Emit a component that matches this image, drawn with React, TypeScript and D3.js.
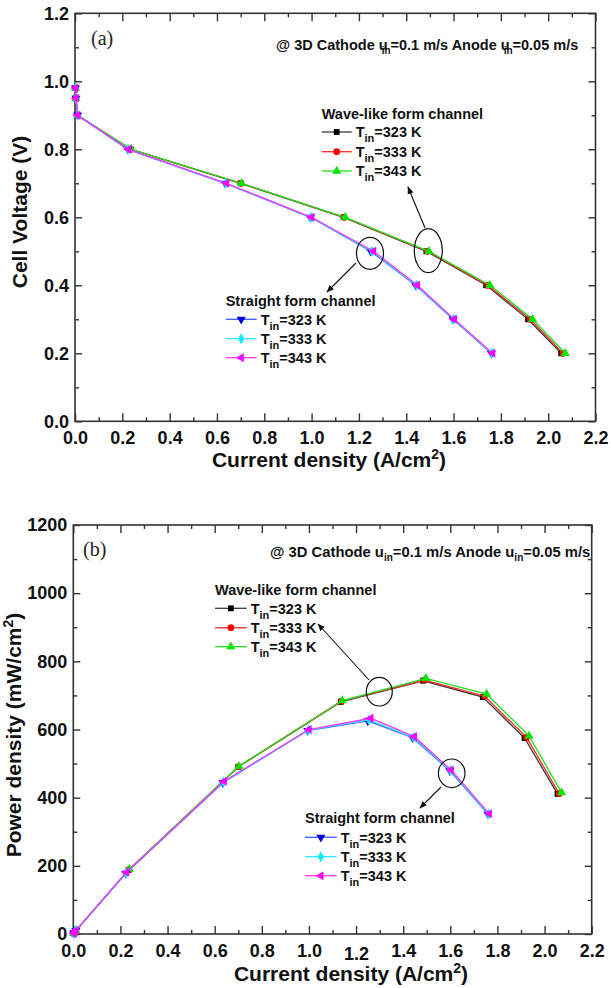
import React, { useEffect, useRef } from 'react';
import * as d3 from 'd3';

// tick labels
const currentTicks = [0, 0.2, 0.4, 0.6, 0.8, 1.0, 1.2, 1.4, 1.6, 1.8, 2.0, 2.2];
const voltageTicks = [0, 0.2, 0.4, 0.6, 0.8, 1.0, 1.2];
const powerTicks = [0, 200, 400, 600, 800, 1000, 1200];

// panel (a): cell voltage levels, with current density of each run
const cellVoltage = [0.98, 0.95, 0.9, 0.8, 0.7, 0.6, 0.5, 0.4, 0.3, 0.2];
const wave323Current = [0.002, 0.004, 0.011, 0.235, 0.700, 1.135, 1.485, 1.738, 1.915, 2.055];
const wave333Current = [0.002, 0.004, 0.011, 0.236, 0.701, 1.138, 1.490, 1.745, 1.924, 2.062];
const wave343Current = [0.002, 0.004, 0.011, 0.238, 0.703, 1.142, 1.496, 1.754, 1.934, 2.072];
const straight323Current = [0.002, 0.004, 0.011, 0.223, 0.635, 0.995, 1.250, 1.440, 1.598, 1.760];
const straight333Current = [0.002, 0.004, 0.011, 0.224, 0.637, 0.997, 1.255, 1.443, 1.600, 1.762];
const straight343Current = [0.002, 0.004, 0.011, 0.226, 0.640, 1.000, 1.262, 1.447, 1.603, 1.765];

// panel (b): power density
const wave323Power = [2, 4, 10, 188, 490, 681, 743, 695, 575, 411];
const wave333Power = [2, 4, 10, 189, 491, 683, 745, 698, 577, 412];
const wave343Power = [2, 4, 10, 190, 492, 685, 750, 704, 581, 415];
const straight323Power = [2, 4, 10, 178, 444, 597, 625, 576, 479, 352];
const straight333Power = [2, 4, 10, 179, 446, 598, 628, 577, 480, 352];
const straight343Power = [2, 4, 10, 181, 448, 600, 633, 579, 481, 353];

const tempLabels = ['323 K', '333 K', '343 K'];

const FONT = 'Liberation Sans, Arial, sans-serif';

const styles = [
  { line: '#3a3a3a', fill: '#000000', symbol: d3.symbolSquare, size: 34, rotate: 0 },
  { line: '#ff2a2a', fill: '#ff0000', symbol: d3.symbolCircle, size: 36, rotate: 0 },
  { line: '#1ee01e', fill: '#00e600', symbol: d3.symbolTriangle, size: 36, rotate: 0 },
  { line: '#3d5cff', fill: '#0000e0', symbol: d3.symbolTriangle, size: 36, rotate: 180 },
  { line: '#28e6ff', fill: '#00f0ff', symbol: d3.symbolDiamond, size: 34, rotate: 0 },
  { line: '#ff35ff', fill: '#ff00ff', symbol: d3.symbolTriangle, size: 36, rotate: -90 },
];

function marker(g, st, cx, cy) {
  g.append('path')
    .attr('d', d3.symbol().type(st.symbol).size(st.size)())
    .attr('transform', `translate(${cx},${cy}) rotate(${st.rotate})`)
    .attr('fill', st.fill);
}

// parts: [text, isSub, dx]
function subText(sel, parts, sub = 10, shift = 4) {
  let acc = 0;
  parts.forEach(([t, isSub, dx]) => {
    const want = isSub ? shift : 0;
    const ts = sel.append('tspan').text(t).attr('dy', want - acc);
    if (isSub) ts.attr('font-size', sub).attr('dx', dx || 0);
    acc = want;
  });
}

function drawPanel(svg, p) {
  const x = d3.scaleLinear().domain([0, 2.2]).range([p.left, p.right]);
  const y = d3.scaleLinear().domain([0, p.yMax]).range([p.bottom, p.top]);
  const g = svg.append('g');

  const xMinor = currentTicks.slice(0, -1).map(v => v + 0.1);
  const yMinor = p.yTicks.slice(0, -1).map((v, i) => (v + p.yTicks[i + 1]) / 2);

  const style = sel => {
    sel.select('.domain').remove();
    sel.attr('color', '#333').attr('font-family', FONT).attr('font-size', 18).attr('font-weight', 'bold');
    sel.selectAll('line').attr('stroke-width', 1.4);
    sel.selectAll('text').attr('fill', '#111');
  };

  g.append('g').attr('transform', `translate(0,${p.bottom})`)
    .call(d3.axisBottom(x).tickValues(currentTicks).tickSize(-8).tickPadding(10).tickFormat(d3.format('.1f')))
    .call(style)
    .call(s => s.selectAll('text').attr('transform', d => (p.shiftTick === d ? 'translate(0,3)' : null)));
  g.append('g').attr('transform', `translate(0,${p.bottom})`)
    .call(d3.axisBottom(x).tickValues(xMinor).tickSize(-4).tickFormat(() => '')).call(style);
  g.append('g').attr('transform', `translate(0,${p.top})`)
    .call(d3.axisTop(x).tickValues(currentTicks).tickSize(-8).tickFormat(() => '')).call(style);
  g.append('g').attr('transform', `translate(0,${p.top})`)
    .call(d3.axisTop(x).tickValues(xMinor).tickSize(-4).tickFormat(() => '')).call(style);

  g.append('g').attr('transform', `translate(${p.left},0)`)
    .call(d3.axisLeft(y).tickValues(p.yTicks).tickSize(-7).tickPadding(6).tickFormat(p.yFormat))
    .call(style);
  g.append('g').attr('transform', `translate(${p.left},0)`)
    .call(d3.axisLeft(y).tickValues(yMinor).tickSize(-4).tickFormat(() => '')).call(style);
  g.append('g').attr('transform', `translate(${p.right},0)`)
    .call(d3.axisRight(y).tickValues(p.yTicks).tickSize(-7).tickFormat(() => '')).call(style);
  g.append('g').attr('transform', `translate(${p.right},0)`)
    .call(d3.axisRight(y).tickValues(yMinor).tickSize(-4).tickFormat(() => '')).call(style);

  g.append('rect')
    .attr('x', p.left).attr('y', p.top)
    .attr('width', p.right - p.left).attr('height', p.bottom - p.top)
    .attr('fill', 'none').attr('stroke', '#333').attr('stroke-width', 1.6);

  // series
  const line = d3.line().x(d => x(d[0])).y(d => y(d[1]));
  p.series.forEach(([xs, ys], i) => {
    const pts = d3.zip(xs, ys);
    const st = styles[i];
    g.append('path').datum(pts).attr('d', line)
      .attr('fill', 'none').attr('stroke', st.line).attr('stroke-width', 1.3);
    pts.forEach(d => marker(g, st, x(d[0]), y(d[1])));
  });

  // axis titles
  const xt = g.append('text')
    .attr('x', p.xTitleX).attr('y', p.xTitleY).attr('text-anchor', 'middle')
    .attr('font-family', FONT).attr('font-size', 21).attr('font-weight', 'bold').attr('fill', '#111');
  xt.append('tspan').text('Current density (A/cm');
  xt.append('tspan').text('2').attr('font-size', 14).attr('dy', -8);
  xt.append('tspan').text(')').attr('dy', 8);

  const yt = g.append('text')
    .attr('transform', `translate(${p.yTitleX},${p.yTitleY}) rotate(-90)`).attr('text-anchor', 'middle')
    .attr('font-family', FONT).attr('font-size', 21).attr('font-weight', 'bold').attr('fill', '#111');
  if (p.yTitleSup) {
    yt.append('tspan').text(p.yTitle);
    yt.append('tspan').text('2').attr('font-size', 14).attr('dy', -8);
    yt.append('tspan').text(')').attr('dy', 8);
  } else {
    yt.text(p.yTitle);
  }

  // panel letter
  g.append('text').attr('x', p.letterX).attr('y', p.letterY)
    .attr('font-family', 'Liberation Serif, Times New Roman, serif').attr('font-size', 20).attr('fill', '#222')
    .text(p.letter);

  // condition note
  const note = g.append('text').attr('x', p.noteX).attr('y', p.noteY)
    .attr('font-family', FONT).attr('font-size', p.noteSize).attr('font-weight', 'bold').attr('fill', '#111');
  subText(note, [
    ['@ 3D Cathode u', false], ['in', true, p.subDx], ['=0.1 m/s Anode u', false], ['in', true, p.subDx], ['=0.05 m/s', false],
  ]);

  // legends
  p.legends.forEach(lg => {
    g.append('text').attr('x', lg.x).attr('y', lg.titleY)
      .attr('font-family', FONT).attr('font-size', 14.5).attr('font-weight', 'bold').attr('fill', '#111')
      .text(lg.title);
    lg.rows.forEach((ry, k) => {
      const st = styles[lg.first + k];
      g.append('line').attr('x1', lg.x).attr('x2', lg.x + lg.len).attr('y1', ry).attr('y2', ry)
        .attr('stroke', st.line).attr('stroke-width', 1.3);
      marker(g, st, lg.x + lg.len / 2, ry);
      const t = g.append('text').attr('x', lg.x + lg.len + 4).attr('y', ry + 5.3)
        .attr('font-family', FONT).attr('font-size', 14.5).attr('font-weight', 'bold').attr('fill', '#111');
      subText(t, [['T', false], ['in', true, 0], ['=' + tempLabels[k], false]], 11, 5);
    });
  });

  // circles and arrows
  p.notes.forEach(n => {
    g.append('ellipse').attr('cx', n.cx).attr('cy', n.cy).attr('rx', n.rx).attr('ry', n.ry)
      .attr('fill', 'none').attr('stroke', '#111').attr('stroke-width', 1.2);
    g.append('line').attr('x1', n.ax1).attr('y1', n.ay1).attr('x2', n.ax2).attr('y2', n.ay2)
      .attr('stroke', '#111').attr('stroke-width', 1.1).attr('marker-end', 'url(#arrowHead)');
  });
}

export default function App() {
  const ref = useRef(null);

  useEffect(() => {
    const svg = d3.select(ref.current);
    svg.selectAll('*').remove();

    svg.append('defs').append('marker')
      .attr('id', 'arrowHead').attr('viewBox', '0 0 10 10').attr('refX', 9).attr('refY', 5)
      .attr('markerWidth', 7).attr('markerHeight', 7).attr('orient', 'auto')
      .append('path').attr('d', 'M0,1 L10,5 L0,9 Z').attr('fill', '#111');

    drawPanel(svg, {
      left: 75, right: 595.5, top: 13.3, bottom: 421.3, yMax: 1.2,
      yTicks: voltageTicks, yFormat: d3.format('.1f'),
      series: [
        [wave323Current, cellVoltage], [wave333Current, cellVoltage], [wave343Current, cellVoltage],
        [straight323Current, cellVoltage], [straight333Current, cellVoltage], [straight343Current, cellVoltage],
      ],
      xTitleX: 329, xTitleY: 467,
      yTitle: 'Cell Voltage (V)', yTitleX: 27, yTitleY: 212,
      letter: '(a)', letterX: 91, letterY: 45,
      noteX: 276, noteY: 50, subDx: -6, noteSize: 14.5,
      legends: [
        { title: 'Wave-like form channel', x: 321.7, titleY: 119, rows: [132, 151.7, 171], len: 30, first: 0 },
        { title: 'Straight form channel', x: 225.7, titleY: 306, rows: [319.3, 338.7, 357.7], len: 31, first: 3 },
      ],
      notes: [
        { cx: 428.3, cy: 250.7, rx: 14, ry: 22, ax1: 425, ay1: 228, ax2: 408, ay2: 187 },
        { cx: 370, cy: 253.3, rx: 13.5, ry: 16, ax1: 356, ay1: 263, ax2: 327, ay2: 292 },
      ],
    });

    drawPanel(svg, {
      left: 73.3, right: 591.7, top: 525, bottom: 934, yMax: 1200,
      yTicks: powerTicks, yFormat: d3.format('d'), shiftTick: 1.2,
      series: [
        [wave323Current, wave323Power], [wave333Current, wave333Power], [wave343Current, wave343Power],
        [straight323Current, straight323Power], [straight333Current, straight333Power], [straight343Current, straight343Power],
      ],
      xTitleX: 351, xTitleY: 981,
      yTitle: 'Power density (mW/cm', yTitleSup: true, yTitleX: 21, yTitleY: 735,
      letter: '(b)', letterX: 83, letterY: 556,
      noteX: 270, noteY: 556.7, subDx: 0, noteSize: 14.8,
      legends: [
        { title: 'Wave-like form channel', x: 215, titleY: 595, rows: [608.3, 627.7, 646.7], len: 31.7, first: 0 },
        { title: 'Straight form channel', x: 305, titleY: 823.3, rows: [837.3, 856.7, 875.7], len: 31.7, first: 3 },
      ],
      notes: [
        { cx: 379.3, cy: 691.7, rx: 13, ry: 14.3, ax1: 369, ay1: 680, ax2: 318, ay2: 624 },
        { cx: 451.7, cy: 773.3, rx: 13.3, ry: 14.3, ax1: 441, ay1: 787, ax2: 420, ay2: 808 },
      ],
    });
  }, []);

  return (
    <svg ref={ref} width={611} height={988}
      style={{ position: 'absolute', left: 0, top: 0, background: '#fff' }} />
  );
}
